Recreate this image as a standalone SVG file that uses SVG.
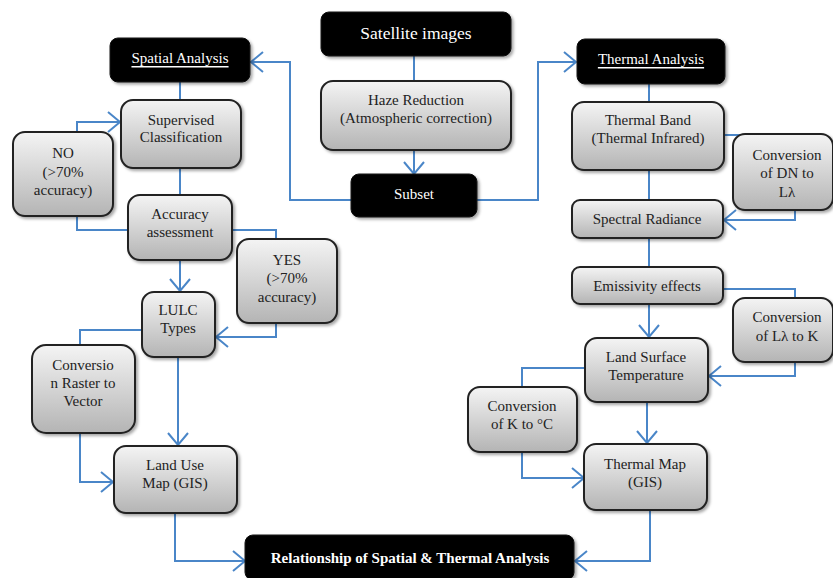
<svg xmlns="http://www.w3.org/2000/svg" width="833" height="578" viewBox="0 0 833 578">
<defs>
<linearGradient id="g" x1="0" y1="0" x2="0" y2="1">
<stop offset="0" stop-color="#f4f4f4"/>
<stop offset="1" stop-color="#b4b4b4"/>
</linearGradient>
<filter id="sh" x="-10%" y="-10%" width="125%" height="130%">
<feDropShadow dx="2" dy="2" stdDeviation="1.5" flood-color="#000" flood-opacity="0.35"/>
</filter>
<marker id="ah" markerUnits="userSpaceOnUse" markerWidth="30" markerHeight="30" refX="15" refY="15" orient="auto" viewBox="0 0 30 30">
<path d="M3,5 L15,15 L3,25" fill="none" stroke="#4a86c8" stroke-width="2"/>
</marker>
</defs>
<style>
.n{fill:url(#g);stroke:#222;stroke-width:2;filter:url(#sh)}
.b{fill:#000;stroke:#111;stroke-width:1;filter:url(#sh)}
.t{font-family:"Liberation Serif","Times New Roman",serif;font-size:15px;fill:#222;text-anchor:middle;dominant-baseline:central}
.w{font-family:"Liberation Serif","Times New Roman",serif;font-size:15px;fill:#fff;text-anchor:middle;dominant-baseline:central}
.c path{fill:none;stroke:#4a86c8;stroke-width:2}
.a{marker-end:url(#ah)}
</style>
<rect width="833" height="578" fill="#fff"/>
<g class="c" id="connectors">
<path d="M414,56 V81"/>
<path class="a" d="M414,150 V174"/>
<path class="a" d="M351,200 H290 V62 H251"/>
<path class="a" d="M477,200 H538 V62 H576"/>
<path d="M180,82 V100"/>
<path class="a" d="M77,132 V122 H120"/>
<path d="M180,168 V195"/>
<path d="M77,216 V230 H128"/>
<path d="M232,230 H276 V239"/>
<path class="a" d="M276,323 V337 H216"/>
<path class="a" d="M180,260 V291"/>
<path d="M142,330 H80 V345"/>
<path class="a" d="M80,433 V482 H113"/>
<path class="a" d="M178,357 V445"/>
<path class="a" d="M175,513 V561 H245"/>
<path d="M649,84 V102"/>
<path d="M724,135 H742"/>
<path class="a" d="M795,210 V220 H724"/>
<path d="M649,170 V200"/>
<path d="M649,238 V267"/>
<path d="M723,289 H795 V298"/>
<path class="a" d="M795,362 V376 H709"/>
<path class="a" d="M649,304 V337"/>
<path d="M585,368 H522 V387"/>
<path class="a" d="M522,452 V478 H584"/>
<path class="a" d="M647,402 V443"/>
<path class="a" d="M650,510 V561 H575"/>
</g>
<g id="satellite"><rect class="b" x="321" y="12" width="190" height="44" rx="8"/><text class="w" x="416" y="33" style="font-size:17.5px">Satellite images</text></g>
<g id="haze"><rect class="n" x="321" y="81" width="190" height="69" rx="12"/><text class="t" x="416" y="100">Haze Reduction</text><text class="t" x="416" y="118">(Atmospheric correction)</text></g>
<g id="subset"><rect class="b" x="351" y="174" width="126" height="43" rx="8"/><text class="w" x="414" y="194">Subset</text></g>
<g id="spatial"><rect class="b" x="110" y="38" width="140" height="44" rx="8"/><text class="w" x="180" y="58" text-decoration="underline">Spatial Analysis</text></g>
<g id="supervised"><rect class="n" x="121" y="100" width="120" height="68" rx="12"/><text class="t" x="181" y="120">Supervised</text><text class="t" x="181" y="137">Classification</text></g>
<g id="no"><rect class="n" x="13" y="132" width="100" height="84" rx="12"/><text class="t" x="63" y="153">NO</text><text class="t" x="63" y="172">(&gt;70%</text><text class="t" x="63" y="190">accuracy)</text></g>
<g id="accuracy"><rect class="n" x="128" y="195" width="104" height="65" rx="12"/><text class="t" x="180" y="214">Accuracy</text><text class="t" x="180" y="232">assessment</text></g>
<g id="yes"><rect class="n" x="237" y="239" width="100" height="84" rx="12"/><text class="t" x="287" y="260">YES</text><text class="t" x="287" y="278">(&gt;70%</text><text class="t" x="287" y="297">accuracy)</text></g>
<g id="lulc"><rect class="n" x="142" y="292" width="73" height="65" rx="12"/><text class="t" x="178" y="310">LULC</text><text class="t" x="178" y="328">Types</text></g>
<g id="raster"><rect class="n" x="32" y="345" width="103" height="88" rx="14"/><text class="t" x="83" y="365">Conversio</text><text class="t" x="83" y="383">n Raster to</text><text class="t" x="83" y="401">Vector</text></g>
<g id="landuse"><rect class="n" x="114" y="446" width="123" height="67" rx="12"/><text class="t" x="175" y="465">Land Use</text><text class="t" x="175" y="483">Map (GIS)</text></g>
<g id="relationship"><rect class="b" x="245" y="535" width="329" height="45" rx="8"/><text class="w" x="410" y="558" style="font-size:15px;font-weight:bold">Relationship of Spatial &amp; Thermal Analysis</text></g>
<g id="thermal"><rect class="b" x="577" y="39" width="148" height="45" rx="8"/><text class="w" x="651" y="59" text-decoration="underline">Thermal Analysis</text></g>
<g id="band"><rect class="n" x="572" y="102" width="152" height="68" rx="12"/><text class="t" x="648" y="120">Thermal Band</text><text class="t" x="648" y="138">(Thermal Infrared)</text></g>
<g id="convdn"><rect class="n" x="733" y="134" width="100" height="76" rx="12"/><text class="t" x="787" y="155">Conversion</text><text class="t" x="787" y="173">of DN to</text><text class="t" x="787" y="192">Lλ</text></g>
<g id="spectral"><rect class="n" x="572" y="200" width="151" height="38" rx="8"/><text class="t" x="647" y="219">Spectral Radiance</text></g>
<g id="emissivity"><rect class="n" x="572" y="267" width="151" height="37" rx="8"/><text class="t" x="647" y="286">Emissivity effects</text></g>
<g id="convl"><rect class="n" x="733" y="298" width="100" height="64" rx="12"/><text class="t" x="787" y="317">Conversion</text><text class="t" x="787" y="336">of Lλ to K</text></g>
<g id="lst"><rect class="n" x="585" y="338" width="123" height="64" rx="12"/><text class="t" x="646" y="357">Land Surface</text><text class="t" x="646" y="375">Temperature</text></g>
<g id="convk"><rect class="n" x="468" y="387" width="109" height="65" rx="12"/><text class="t" x="522" y="406">Conversion</text><text class="t" x="522" y="424">of K to °C</text></g>
<g id="thermalmap"><rect class="n" x="584" y="444" width="123" height="66" rx="12"/><text class="t" x="645" y="464">Thermal Map</text><text class="t" x="645" y="482">(GIS)</text></g>
</svg>
